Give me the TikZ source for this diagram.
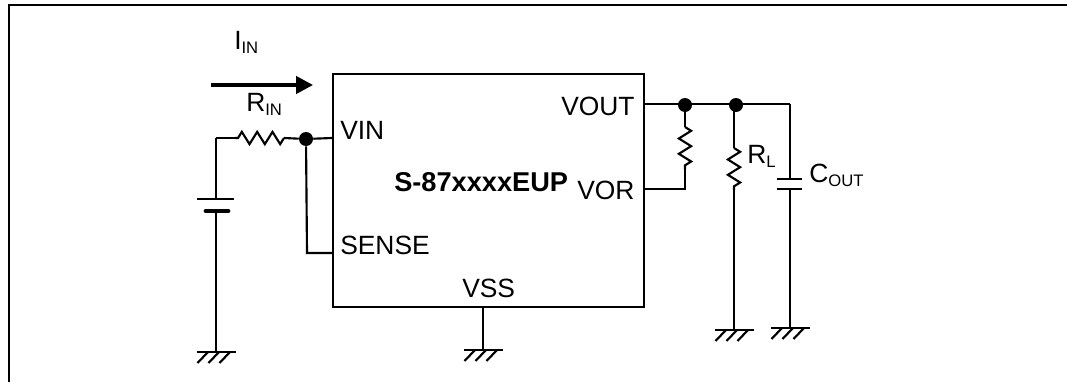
\documentclass[tikz,border=0pt]{standalone}
\usepackage{fontspec}
\setmainfont{Liberation Sans}
\usetikzlibrary{arrows.meta,decorations.pathmorphing}
\newcommand{\pinsub}[1]{\raisebox{-3pt}{\fontsize{12.5}{12.5}\selectfont #1}}
\tikzset{
	wire/.style={line width=1.6pt},
	zig/.style={wire,decorate,decoration={zigzag,segment length=11.5pt,amplitude=4.6pt}},
	pin/.style={anchor=base west,inner sep=0pt,font=\fontsize{19.8}{19.8}\selectfont},
	dot/.style={circle,fill=black,inner sep=0pt,minimum size=10.5pt},
}
\begin{document}
\begin{tikzpicture}[x=0.75pt,y=-0.75pt]
	\useasboundingbox (0,0) rectangle (1067,382);
	\draw[line width=1.6pt] (9,382)--(9,5)--(1067,5);
	% chip
	\node (chip) at (488.5,190.5) [draw,wire,minimum width=233.25pt,minimum height=174.75pt,inner sep=0pt] {};
	\node (vin) at (340,139) [pin] {VIN};
	\node (sense) at (340,254) [pin] {SENSE};
	\node (vss) at (462,297) [pin] {VSS};
	\node (vout) at (561,115) [pin] {VOUT};
	\node (vor) at (577,199) [pin] {VOR};
	\node (part) at (394,191) [pin] {\fontsize{20.4}{20.4}\selectfont\bfseries S-87xxxxEUP};
	\node (iin) at (234,49) [pin] {I\pinsub{IN}};
	\node (rin) at (246,111) [pin] {R\pinsub{IN}};
	\node (rl) at (747,163) [pin] {R\pinsub{L}};
	\node (cout) at (809,182) [pin] {C\pinsub{OUT}};
	% input side
	\coordinate (flowa) at (211,85);
	\coordinate (flowb) at (313,85);
	\draw[line width=2.6pt,-{Triangle[length=12.75pt,width=13pt]}] (flowa)--(flowb);
	\coordinate (batt) at (216,138);
	\coordinate (rina) at (235,138);
	\coordinate (rinb) at (284,138);
	\node (dotin) at (306,139) [dot] {};
	\coordinate (pinvin) at (chip.west|-0,138);
	\coordinate (pinsense) at (chip.west|-0,253);
	\coordinate (senseb) at (307,253);
	\draw[wire] (batt)--(rina);
	\draw[zig] (rinb)--(rina);
	\draw[wire] (rinb)--(dotin)--(pinvin);
	\draw[wire] (dotin)--(senseb)--(pinsense);
	\coordinate (plus) at (216,199);
	\coordinate (minus) at (216,211);
	\coordinate (gbatt) at (216,352);
	\draw[wire] (batt)--(plus);
	\draw[wire] (197,199)--(234,199);
	\draw[line width=3.6pt,line cap=round] (206,211)--(228,211);
	\draw[wire] (minus)--(gbatt);
	% ground of chip
	\coordinate (gvss) at (483,350);
	\draw[wire] (chip.south-|gvss)--(gvss);
	% output side
	\coordinate (pinvout) at (chip.east|-0,104);
	\coordinate (pinvor) at (chip.east|-0,189);
	\node (dotfb) at (685,105) [dot] {};
	\node (dotrl) at (736,105) [dot] {};
	\coordinate (capa) at (790,104);
	\draw[wire] (pinvout)--(capa);
	\coordinate (fba) at (685,127);
	\coordinate (fbb) at (685,169);
	\coordinate (fbc) at (685,189);
	\draw[wire] (dotfb)--(fba);
	\draw[zig] (fba)--(fbb);
	\draw[wire] (fbb)--(fbc)--(pinvor);
	\coordinate (rla) at (734,148);
	\coordinate (rlb) at (734,190);
	\coordinate (grl) at (734,330);
	\draw[wire] (734,105)--(rla);
	\draw[zig] (rla)--(rlb);
	\draw[wire] (rlb)--(grl);
	\coordinate (capb) at (790,179);
	\coordinate (capc) at (790,189);
	\coordinate (gcap) at (790,328);
	\draw[wire] (capa)--(capb);
	\draw[wire] (777,179)--(802,179);
	\draw[wire] (777,189)--(802,189);
	\draw[wire] (capc)--(gcap);
	% grounds
	\foreach \g in {gbatt,gvss,grl,gcap}{
		\draw[wire,shift={(\g)}] (-19,0)--(20,0);
		\foreach \h in {-8,3,14}{
			\draw[wire,shift={(\g)}] (\h,0)--(\h-10.5,11);
		}
	}
\end{tikzpicture}
\end{document}
